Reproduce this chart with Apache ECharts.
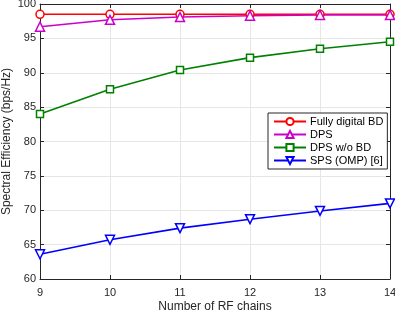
<!DOCTYPE html>
<html><head><meta charset="utf-8">
<script src="https://cdn.jsdelivr.net/npm/echarts@6/dist/echarts.min.js"></script>
<style>html,body{margin:0;padding:0;background:#fff}#c{width:395px;height:314px}</style>
</head><body><div id="c"></div>
<script>
const categories = [9, 10, 11, 12, 13, 14];
const fullyDigital = [98.5, 98.5, 98.5, 98.5, 98.5, 98.5];
const dps = [96.7, 97.7, 98.1, 98.3, 98.4, 98.4];
const dpsNoBD = [84.0, 87.6, 90.4, 92.2, 93.5, 94.5];
const sps = [63.6, 65.7, 67.4, 68.7, 69.9, 71.0];
const seriesNames = ['Fully digital BD', 'DPS', 'DPS w/o BD', 'SPS (OMP) [6]'];

const axisCol = '#262626';
const font = 'Liberation Sans, Arial, sans-serif';
function pts(arr){ return categories.map((c,i)=>[c, arr[i]]); }
function mk(name, data, color, symbol, rot, size){
  return {name, type:'line', data:pts(data), symbol, symbolRotate:rot, symbolSize:size,
    showAllSymbol:true, lineStyle:{color, width:1.6}, itemStyle:{color:'#fff', borderColor:color, borderWidth:1.5},
    emphasis:{disabled:true}, z:3};
}
const chart = echarts.init(document.getElementById('c'), null, {renderer:'canvas'});
const axisBase = {
  axisLine:{show:true, lineStyle:{color:axisCol, width:1}},
  axisTick:{show:true, inside:true, length:4, lineStyle:{color:axisCol}},
};
chart.setOption({
  animation:false,
  backgroundColor:'#fff',
  grid:{left:40, right:5, top:4, bottom:35, containLabel:false, outerBoundsMode:'none'},
  legend:{
    orient:'vertical', left:268, top:113, width:111,
    backgroundColor:'#fff', borderColor:axisCol, borderWidth:1,
    padding:[3,4,3,5], itemGap:2, itemWidth:32, itemHeight:9,
    textStyle:{fontFamily:font, fontSize:11, color:'#000', padding:[0,0,0,-1]},
    data:seriesNames
  },
  xAxis:[
    Object.assign({type:'value', min:9, max:14, interval:1,
      axisLabel:{color:axisCol, fontFamily:font, fontSize:11, margin:8},
      splitLine:{show:true, lineStyle:{color:'#e6e6e6', width:1}},
      name:'Number of RF chains', nameLocation:'middle', nameGap:22, nameMoveOverlap:false,
      nameTextStyle:{color:axisCol, fontFamily:font, fontSize:12}}, axisBase),
    Object.assign({type:'value', min:9, max:14, interval:1, position:'top',
      axisLabel:{show:false}, splitLine:{show:false}}, axisBase)
  ],
  yAxis:[
    Object.assign({type:'value', min:60, max:100, interval:5,
      axisLabel:{color:axisCol, fontFamily:font, fontSize:11, margin:4},
      splitLine:{show:true, lineStyle:{color:'#e6e6e6', width:1}},
      name:'Spectral Efficiency (bps/Hz)', nameLocation:'middle', nameGap:27, nameMoveOverlap:false,
      nameTextStyle:{color:axisCol, fontFamily:font, fontSize:12}}, axisBase),
    Object.assign({type:'value', min:60, max:100, interval:5, position:'right',
      axisLabel:{show:false}, splitLine:{show:false}}, axisBase)
  ],
  series:[
    mk(seriesNames[0], fullyDigital, '#ff0000', 'circle', 0, 8),
    mk(seriesNames[1], dps, '#cc00cc', 'triangle', 0, 9),
    mk(seriesNames[2], dpsNoBD, '#008000', 'rect', 0, 7),
    mk(seriesNames[3], sps, '#0000ff', 'triangle', 180, 9)
  ]
});
</script></body></html>
